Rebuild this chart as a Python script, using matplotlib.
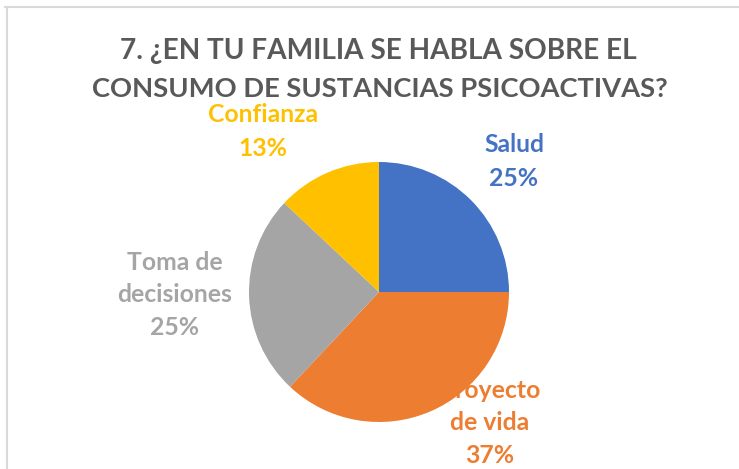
import matplotlib
matplotlib.use("Agg")
import matplotlib.pyplot as plt
from matplotlib.lines import Line2D

categories = ["Salud", "Proyecto de vida", "Toma de decisiones", "Confianza"]
values = [25, 37, 25, 13]
label_lines = [["Salud", "25%"], ["Proyecto", "de vida", "37%"], ["Toma de", "decisiones", "25%"], ["Confianza", "13%"]]
colors = ["#4472C4", "#ED7D31", "#A5A5A5", "#FFC000"]
title_lines = ["7. ¿EN TU FAMILIA SE HABLA SOBRE EL", "CONSUMO DE SUSTANCIAS PSICOACTIVAS?"]

W, H = 739, 469
fig = plt.figure(figsize=(W / 100, H / 100), dpi=100)
fig.patch.set_facecolor("white")

def fx(px):
    return px / W

def fy(py):
    return 1 - py / H

# frame lines (top and left)
fig.add_artist(Line2D([fx(5), fx(739)], [fy(7.5), fy(7.5)], color="#D9D9D9", lw=1.5))
fig.add_artist(Line2D([fx(7), fx(7)], [fy(7), fy(469)], color="#D9D9D9", lw=1.5))

cx, cy, r = 379, 292, 130
ax = fig.add_axes([fx(cx - r), fy(cy + r), 2 * r / W, 2 * r / H])
wedges, _ = ax.pie(values, colors=colors, startangle=90, counterclock=False,
                   radius=1, wedgeprops=dict(linewidth=0))
for w in wedges:
    w.set_zorder(2)
ax.set_xlim(-1, 1)
ax.set_ylim(-1, 1)
ax.axis("off")

font = "Lato"
renderer = fig.canvas.get_renderer()

def fit_text(s, x, y, target_w, color, size0, **kw):
    t = ax.text(fx(x), fy(y), s, transform=fig.transFigure, ha="center", va="center",
                fontsize=size0, fontweight="bold", family=font, color=color,
                clip_on=False, zorder=1, **kw)
    w = t.get_window_extent(renderer).width
    t.set_fontsize(size0 * target_w / w)
    return t

# title
fit_text(title_lines[0], 378, 51, 516, "#595959", 20)
fit_text(title_lines[1], 380, 89, 575, "#595959", 20)

label_pos = [(514, [145, 178]), (490, [390, 422, 455]), (175, [262, 295, 327]), (263, [115, 148])]
lab_size = None
# determine label font size from 'decisiones' width
tmp = ax.text(0, 0, "decisiones", fontsize=14, fontweight="bold", family=font)
wd = tmp.get_window_extent(renderer).width
tmp.remove()
lab_size = 14 * 115 / wd

for lines, (x, ys), c in zip(label_lines, label_pos, colors):
    for s, y in zip(lines, ys):
        ax.text(fx(x), fy(y), s, transform=fig.transFigure, ha="center", va="center",
                fontsize=lab_size, fontweight="bold", family=font, color=c,
                clip_on=False, zorder=1)

fig.savefig("out.png", dpi=100)
